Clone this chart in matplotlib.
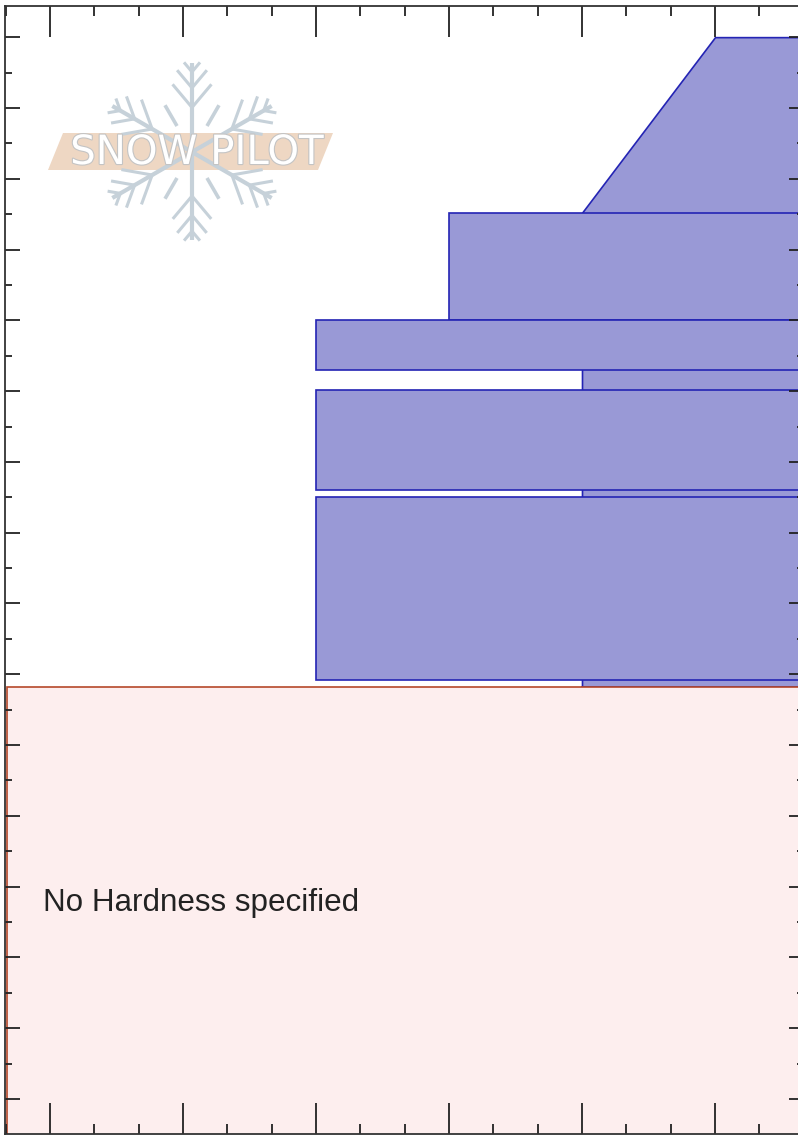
import numpy as np
import matplotlib
matplotlib.use("Agg")
import matplotlib.pyplot as plt
import matplotlib.patheffects as pe
from matplotlib.patches import Rectangle, Polygon
from matplotlib.ticker import MultipleLocator

# hand hardness scale (x axis), 1 = F ... 6 = I
hardness_names = ['F', '4F', '1F', 'P', 'K', 'I']
hardness_pos = [1, 2, 3, 4, 5, 6]

# base layer: hardness K at the bottom, slanting to I at the top
base_heights = [58.2, 125.2, 150.0]
base_hardness = [5, 5, 6]

# layers drawn on top (bottom, top, hardness)
layer_bottom = [110.0, 103.0, 86.0, 59.2]
layer_top = [125.2, 110.0, 100.1, 85.0]
layer_hardness = [4, 3, 3, 3]

# part of the profile with no hardness
nohard_top = 58.2
nohard_label = 'No Hardness specified'

fill_col = '#9999d6'
edge_col = '#2424b4'

fig = plt.figure(figsize=(7.98, 11.37), dpi=100)
ax = fig.add_axes([5 / 798, 3 / 1137, 799 / 798, 1128 / 1137])
xmin, xmax = 0.662, 6.669
ymin, ymax = -4.94, 154.4
ax.set_xlim(xmin, xmax)
ax.set_ylim(ymin, ymax)
ax.set_axisbelow(False)

# base layer
ax.fill_betweenx(base_heights, base_hardness, [xmax + 1] * 3,
                 facecolor=fill_col, edgecolor=edge_col, linewidth=1.2, zorder=1)
ax.plot([base_hardness[0], xmax + 1], [base_heights[0]] * 2, color=edge_col, lw=1.2, zorder=1)

for b, t, h in zip(layer_bottom, layer_top, layer_hardness):
    ax.add_patch(Rectangle((h, b), xmax + 1 - h, t - b, facecolor=fill_col,
                           edgecolor=edge_col, linewidth=1.2, zorder=1.5))

# no hardness region
ax.add_patch(Rectangle((0.676, ymin - 5), xmax + 1, nohard_top - ymin + 5,
                       facecolor='#fdeeee', edgecolor='#b5482a', linewidth=1.2, zorder=2))
ax.text(0.947, 27.7, nohard_label, ha='left', va='center', fontsize=22.6,
        family='Liberation Sans', color='#222222', zorder=5)

# ticks
ax.xaxis.set_major_locator(MultipleLocator(1))
ax.xaxis.set_minor_locator(MultipleLocator(1 / 3))
ax.yaxis.set_major_locator(MultipleLocator(10))
ax.yaxis.set_minor_locator(MultipleLocator(5))
ax.tick_params(axis='x', which='major', direction='in', length=22, width=1.3,
               top=True, bottom=True, color='#222222')
ax.tick_params(axis='x', which='minor', direction='in', length=7, width=1.3,
               top=True, bottom=True, color='#222222')
ax.tick_params(axis='y', which='major', direction='in', length=11, width=1.3,
               left=True, right=True, color='#222222')
ax.tick_params(axis='y', which='minor', direction='in', length=5, width=1.3,
               left=True, right=True, color='#222222')
ax.tick_params(labelbottom=False, labelleft=False)
for s in ax.spines.values():
    s.set_linewidth(1.3)
    s.set_color('#333333')
    s.set_zorder(6)

# Snow Pilot logo (pixel coordinates)
lax = fig.add_axes([0, 0, 1, 1], zorder=3)
lax.set_xlim(0, 798)
lax.set_ylim(1137, 0)
lax.axis('off')
lax.patch.set_alpha(0)

flake = '#c6d1d9'
cx, cy = 192, 152
for a_deg, L in [(90, 89), (270, 88), (30, 92), (150, 92), (210, 92), (330, 92)]:
    a = np.radians(a_deg)
    d = np.array([np.cos(a), -np.sin(a)])
    lax.plot([cx, cx + L * d[0]], [cy, cy + L * d[1]], color=flake, lw=3.0,
             solid_capstyle='butt')
    for frac, blen in [(0.5, 0.34), (0.72, 0.26), (0.9, 0.14)]:
        p = np.array([cx, cy]) + frac * L * d
        for s in (1, -1):
            b = a + s * np.radians(40)
            e = p + blen * L * np.array([np.cos(b), -np.sin(b)])
            lax.plot([p[0], e[0]], [p[1], e[1]], color=flake, lw=2.2,
                     solid_capstyle='butt')
for a_deg in [60, 120, 240, 300]:
    a = np.radians(a_deg)
    d = np.array([np.cos(a), -np.sin(a)])
    lax.plot([cx + 30 * d[0], cx + 54 * d[0]], [cy + 30 * d[1], cy + 54 * d[1]],
             color=flake, lw=2.6, solid_capstyle='butt')

lax.add_patch(Polygon([(48, 170), (63, 133), (333, 133), (318, 170)],
                      closed=True, facecolor='#eed7c3', edgecolor='none'))
lax.text(197, 153, 'SNOW PILOT', ha='center', va='center', fontsize=29,
         family='DejaVu Sans', color='white',
         path_effects=[pe.withStroke(linewidth=1.6, foreground='#c4c4c4')])

fig.savefig('out.png', dpi=100)
